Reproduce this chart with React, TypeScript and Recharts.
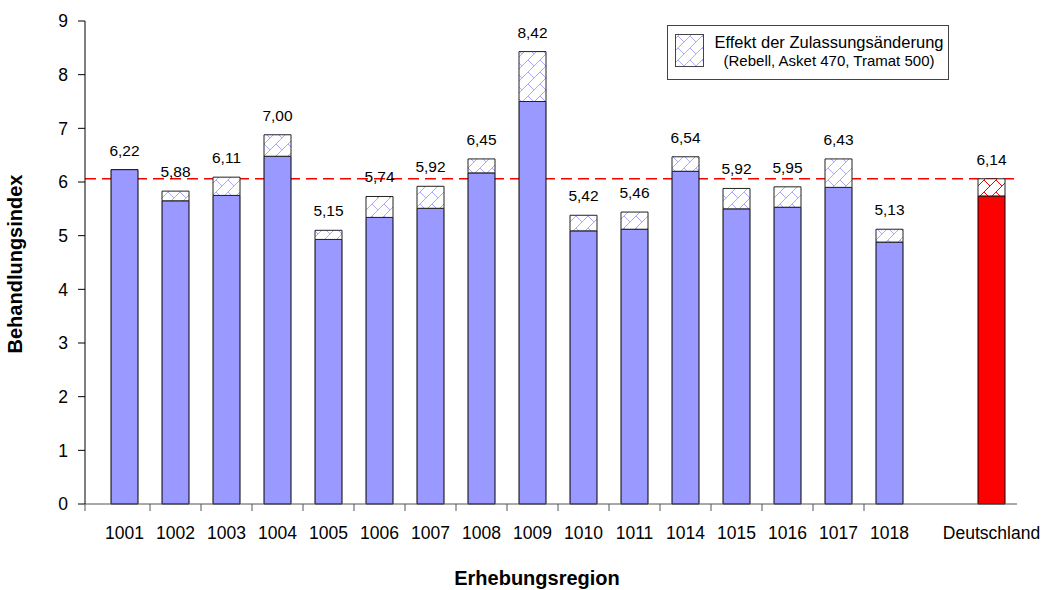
import React from 'react';
import { ComposedChart, Bar, Line, XAxis, YAxis, Cell, LabelList, ReferenceLine, Label } from 'recharts';

// ---- data ----
const categories = ['1001', '1002', '1003', '1004', '1005', '1006', '1007', '1008', '1009', '1010', '1011', '1014', '1015', '1016', '1017', '1018', '', 'Deutschland'];
const baseValues = [6.23, 5.65, 5.75, 6.48, 4.93, 5.34, 5.51, 6.17, 7.5, 5.09, 5.12, 6.2, 5.5, 5.53, 5.9, 4.88, null, 5.74];
const effectValues = [0, 0.18, 0.34, 0.4, 0.17, 0.39, 0.41, 0.26, 0.93, 0.29, 0.32, 0.27, 0.38, 0.38, 0.53, 0.24, null, 0.32];
const totalLabels = ['6,22', '5,88', '6,11', '7,00', '5,15', '5,74', '5,92', '6,45', '8,42', '5,42', '5,46', '6,54', '5,92', '5,95', '6,43', '5,13', '', '6,14'];
const referenceValue = 6.06;
const yTicks = [0, 1, 2, 3, 4, 5, 6, 7, 8, 9];
const highlightCategory = 'Deutschland';
const legendLine1 = 'Effekt der Zulassungsänderung';
const legendLine2 = '(Rebell, Asket 470, Tramat 500)';
const xTitle = 'Erhebungsregion';
const yTitle = 'Behandlungsindex';

const data = categories.map((cat, i) => ({
  cat,
  base: baseValues[i],
  effect: effectValues[i],
  top: baseValues[i] == null ? null : (baseValues[i] as number) + (effectValues[i] as number),
  label: totalLabels[i],
}));

// ---- layout / style ----
const W = 1041;
const H = 590;
const FONT = '"Liberation Sans", Arial, Helvetica, sans-serif';
const PLOT_LEFT = 85;
const PLOT_RIGHT = 1017;
const PAD_LEFT = 14;
const BAND = (PLOT_RIGHT - PLOT_LEFT - PAD_LEFT) / categories.length;
const BLUE = '#9999ff';
const HATCH_BLUE = '#a9a9ff';
const RED = '#ff0000';

const XTick = (props: any) => {
  const { x, y, payload } = props;
  const idx = categories.indexOf(payload.value);
  const cat = payload.value;
  let tickX: number | null = null;
  if (idx === 0) tickX = x - BAND / 2 - PAD_LEFT;
  else if (idx > 0 && idx < 16) tickX = x - BAND / 2;
  return (
    <g>
      {tickX !== null && (
        <line x1={tickX} x2={tickX} y1={y} y2={y + 7} stroke="#555" strokeWidth={1} />
      )}
      <text x={x} y={y + 35} textAnchor="middle" fontFamily={FONT} fontSize={17.5} fill="#000">
        {cat}
      </text>
    </g>
  );
};

const ValueLabel = (props: any) => {
  const { x, y, value } = props;
  if (!value) return null;
  return (
    <text x={Number(x)} y={Number(y) - 14} textAnchor="middle" fontFamily={FONT} fontSize={15.5} fill="#000">
      {value}
    </text>
  );
};

const PatternDefs = ({ prefix }: { prefix: string }) => (
  <defs>
    {[
      { id: `${prefix}Blue`, color: HATCH_BLUE },
      { id: `${prefix}Red`, color: RED },
    ].map((p) => (
      <pattern key={p.id} id={p.id} patternUnits="userSpaceOnUse" width={12} height={12}>
        <rect width={12} height={12} fill="#fff" />
        <path d="M0,12 L12,0 M-1,1 L1,-1 M11,13 L13,11" stroke={p.color} strokeWidth={1} />
        <path d="M0,0 L6,6" stroke={p.color} strokeWidth={1} />
      </pattern>
    ))}
  </defs>
);

const LegendBox = () => (
  <svg width={284} height={57} style={{ position: 'absolute', left: 666, top: 24, overflow: 'visible' }}>
    <PatternDefs prefix="lg" />
    <rect x={1.5} y={1.5} width={281} height={54} fill="#fff" stroke="#444" strokeWidth={1} />
    <rect x={9.5} y={10.5} width={28} height={32} fill="url(#lgBlue)" stroke="#444" strokeWidth={1} />
    <text x={163} y={24} textAnchor="middle" fontFamily={FONT} fontSize={16.5} fill="#000">
      {legendLine1}
    </text>
    <text x={163} y={42} textAnchor="middle" fontFamily={FONT} fontSize={15} fill="#000">
      {legendLine2}
    </text>
  </svg>
);

export default function App() {
  return (
    <div style={{ position: 'absolute', left: 0, top: 0, width: W, height: H, background: '#fff' }}>
      <ComposedChart
        width={W}
        height={H}
        data={data}
        margin={{ top: 21, right: W - PLOT_RIGHT, left: 25, bottom: 30 }}
        barSize={27}
      >
        <PatternDefs prefix="bar" />
        <XAxis
          dataKey="cat"
          interval={0}
          height={56}
          padding={{ left: PAD_LEFT, right: 0 }}
          tick={<XTick />}
          tickLine={false}
          tickSize={0}
          tickMargin={0}
          axisLine={{ stroke: '#555', strokeWidth: 1 }}
        >
          <Label
            content={() => (
              <text x={537} y={585} textAnchor="middle" fontFamily={FONT} fontSize={20} fontWeight="bold" fill="#000">
                {xTitle}
              </text>
            )}
          />
        </XAxis>
        <YAxis
          width={60}
          domain={[0, 9]}
          ticks={yTicks}
          interval={0}
          tickSize={7}
          tickMargin={10}
          tick={{ fontFamily: FONT, fontSize: 17.5, fill: '#000' }}
          tickLine={{ stroke: '#000' }}
          axisLine={{ stroke: '#000', strokeWidth: 1 }}
        >
          <Label
            content={() => (
              <text
                x={22}
                y={264}
                textAnchor="middle"
                fontFamily={FONT}
                fontSize={20}
                fontWeight="bold"
                fill="#000"
                transform="rotate(-90, 22, 264)"
              >
                {yTitle}
              </text>
            )}
          />
        </YAxis>
        <ReferenceLine y={referenceValue} stroke={RED} strokeWidth={1.6} strokeDasharray="11 6" zIndex={100} />
        <Bar dataKey="base" stackId="a" stroke="#000" strokeWidth={1} isAnimationActive={false}>
          {data.map((d, i) => (
            <Cell key={`b${i}`} fill={d.cat === highlightCategory ? RED : BLUE} />
          ))}
        </Bar>
        <Bar dataKey="effect" stackId="a" stroke="#222" strokeWidth={1} isAnimationActive={false}>
          {data.map((d, i) => (
            <Cell key={`e${i}`} fill={d.cat === highlightCategory ? 'url(#barRed)' : 'url(#barBlue)'} />
          ))}
        </Bar>
        <Line
          dataKey="top"
          stroke="none"
          dot={false}
          activeDot={false}
          legendType="none"
          isAnimationActive={false}
        >
          <LabelList dataKey="label" content={<ValueLabel />} />
        </Line>
      </ComposedChart>
      <LegendBox />
    </div>
  );
}
